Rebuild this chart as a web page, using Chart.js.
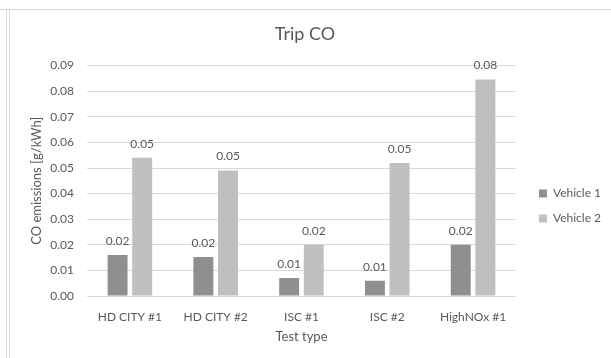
<!DOCTYPE html>
<html>
<head>
<meta charset="utf-8">
<script src="https://cdn.jsdelivr.net/npm/chart.js@4.4.1/dist/chart.umd.min.js"></script>
<style>
  html, body { margin: 0; padding: 0; background: #ffffff; }
  #wrap { position: relative; width: 611px; height: 358px; overflow: hidden; }
  #chart { position: absolute; left: 0; top: 0; }
  .rule { position: absolute; background: #d9d9d9; }
</style>
</head>
<body>
<div id="wrap">
  <div class="rule" style="left:0; top:9px; width:611px; height:1px;"></div>
  <div class="rule" style="left:6px; top:9px; width:1px; height:349px;"></div>
  <div class="rule" style="left:9px; top:9px; width:1px; height:349px;"></div>
  <canvas id="chart" width="611" height="358"></canvas>
</div>
<script>
// Trip CO emissions per test type, in g/kWh
const testTypes = ['HD CITY #1', 'HD CITY #2', 'ISC #1', 'ISC #2', 'HighNOx #1'];
const vehicle1 = [0.016, 0.0152, 0.007, 0.006, 0.020];
const vehicle2 = [0.054, 0.049, 0.020, 0.052, 0.0846];
const yTicks = [0, 0.01, 0.02, 0.03, 0.04, 0.05, 0.06, 0.07, 0.08, 0.09];

const FONT = 'Lato, "Open Sans", sans-serif';
const TEXT = '#595959';

// Writes each bar's value (two decimals) just above the bar
const barValueLabels = {
  id: 'barValueLabels',
  afterDatasetsDraw(chart) {
    const ctx = chart.ctx;
    ctx.save();
    ctx.font = '12px ' + FONT;
    ctx.fillStyle = TEXT;
    ctx.textAlign = 'center';
    ctx.textBaseline = 'middle';
    chart.data.datasets.forEach((ds, i) => {
      chart.getDatasetMeta(i).data.forEach((bar, j) => {
        ctx.fillText(ds.data[j].toFixed(2), bar.x, bar.y - 14);
      });
    });
    ctx.restore();
  }
};

// Moves the legend block a little right and down, into the free space beside the plot
const legendOffset = {
  id: 'legendOffset',
  afterLayout(chart) {
    const lg = chart.legend;
    if (!lg) return;
    const dx = 10, dy = 27;
    lg.left += dx; lg.right += dx;
    lg.top += dy; lg.bottom += dy;
  }
};

new Chart(document.getElementById('chart'), {
  type: 'bar',
  data: {
    labels: testTypes,
    datasets: [
      { label: 'Vehicle 1', data: vehicle1, backgroundColor: '#8f8f8f' },
      { label: 'Vehicle 2', data: vehicle2, backgroundColor: '#bfbfbf' }
    ]
  },
  options: {
    responsive: false,
    animation: false,
    devicePixelRatio: 1,
    categoryPercentage: 0.574,
    barPercentage: 0.81,
    layout: { padding: { left: 9, top: 0, right: 10, bottom: 0 } },
    plugins: {
      title: {
        display: true,
        text: 'Trip CO',
        color: TEXT,
        font: { family: FONT, size: 18, weight: 'normal' },
        padding: { top: 23, bottom: 21 }
      },
      legend: {
        position: 'right',
        labels: {
          color: TEXT,
          font: { family: FONT, size: 12 },
          boxWidth: 8,
          boxHeight: 8,
          padding: 13
        }
      },
      tooltip: { enabled: false }
    },
    scales: {
      x: {
        grid: { display: false },
        border: { display: false },
        ticks: { color: TEXT, font: { family: FONT, size: 12 }, padding: 6 },
        title: { display: true, text: 'Test type', color: TEXT, font: { family: FONT, size: 13 }, padding: 13 },
        afterFit(scale) { scale.height = 62; }
      },
      y: {
        min: 0,
        max: 0.09,
        afterBuildTicks(scale) { scale.ticks = yTicks.map(v => ({ value: v })); },
        grid: { color: '#d9d9d9', drawTicks: false },
        border: { display: false },
        ticks: {
          color: TEXT,
          font: { family: FONT, size: 12 },
          padding: 13,
          callback: v => Number(v).toFixed(2)
        },
        title: { display: true, text: 'CO emissions [g/kWh]', color: TEXT, font: { family: FONT, size: 13 }, padding: 20 },
        afterFit(scale) { scale.width = 78; }
      }
    }
  },
  plugins: [barValueLabels, legendOffset]
});
</script>
</body>
</html>
